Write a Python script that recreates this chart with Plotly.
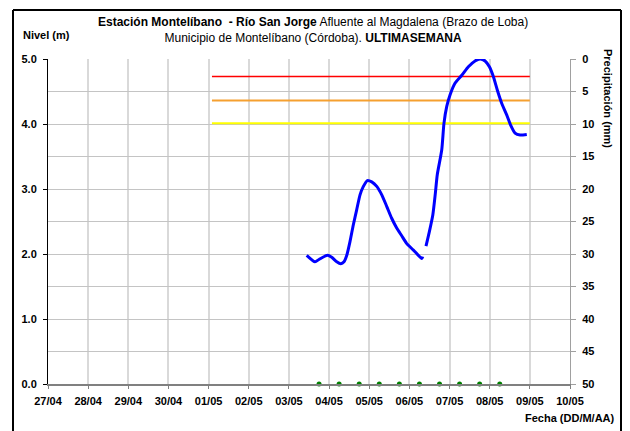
import plotly.graph_objects as go

# nivel del rio (m), dos tramos
t_nivel_1 = ["2025-05-03 10:38", "2025-05-03 15:36", "2025-05-03 18:10", "2025-05-03 23:00",
             "2025-05-04 01:35", "2025-05-04 04:35", "2025-05-04 07:00", "2025-05-04 08:55",
             "2025-05-04 10:35", "2025-05-04 12:30", "2025-05-04 14:30", "2025-05-04 16:30",
             "2025-05-04 18:30", "2025-05-04 20:30", "2025-05-04 22:50", "2025-05-05 01:30",
             "2025-05-05 04:30", "2025-05-05 07:30", "2025-05-05 10:30", "2025-05-05 13:25",
             "2025-05-05 16:25", "2025-05-05 19:25", "2025-05-05 22:25", "2025-05-06 02:25",
             "2025-05-06 07:25", "2025-05-06 08:00"]
nivel_1 = [1.98, 1.88, 1.92, 1.98, 1.95, 1.88, 1.85, 1.88, 1.98, 2.19, 2.45, 2.68,
           2.91, 3.04, 3.13, 3.11, 3.04, 2.91, 2.73, 2.55, 2.40, 2.28, 2.16, 2.06,
           1.93, 1.96]

t_nivel_2 = ["2025-05-06 09:55", "2025-05-06 11:55", "2025-05-06 14:00", "2025-05-06 15:30",
             "2025-05-06 16:40", "2025-05-06 19:20", "2025-05-06 20:40", "2025-05-06 22:20",
             "2025-05-07 00:20", "2025-05-07 03:20", "2025-05-07 07:20", "2025-05-07 11:15",
             "2025-05-07 15:15", "2025-05-07 18:15", "2025-05-07 21:15", "2025-05-07 23:50",
             "2025-05-08 02:10", "2025-05-08 04:35", "2025-05-08 07:10", "2025-05-08 10:10",
             "2025-05-08 12:35", "2025-05-08 15:10", "2025-05-08 18:10", "2025-05-08 22:10"]
nivel_2 = [2.12, 2.34, 2.60, 2.93, 3.22, 3.60, 4.01, 4.27, 4.45, 4.63, 4.75, 4.88,
           4.97, 5.00, 4.97, 4.88, 4.73, 4.52, 4.32, 4.14, 3.98, 3.86, 3.83, 3.84]

# umbrales de alerta
t_umbral = ["2025-05-01 02:00", "2025-05-09 00:00"]
umbral_rojo = 4.73
umbral_naranja = 4.36
umbral_amarillo = 4.01

# precipitacion registrada
t_precip = ["2025-05-03 18:00", "2025-05-04 06:00", "2025-05-04 18:00", "2025-05-05 06:00",
            "2025-05-05 18:00", "2025-05-06 06:00", "2025-05-06 18:00", "2025-05-07 06:00",
            "2025-05-07 18:00", "2025-05-08 06:00"]
precip = [0, 0, 0, 0, 0, 0, 0, 0, 0, 0]

font = "Liberation Sans, Arial, sans-serif"

fig = go.Figure()

for nivel, color, w in [(umbral_rojo, "#ff0000", 1.5),
                        (umbral_naranja, "#f5a030", 2),
                        (umbral_amarillo, "#ffff00", 2)]:
    fig.add_trace(go.Scatter(x=t_umbral, y=[nivel, nivel], mode="lines",
                             line=dict(color=color, width=w), showlegend=False))

fig.add_trace(go.Scatter(x=t_nivel_1, y=nivel_1, mode="lines",
                         line=dict(color="#0000ff", width=3, shape="spline", smoothing=0.6),
                         showlegend=False))
fig.add_trace(go.Scatter(x=t_nivel_2, y=nivel_2, mode="lines",
                         line=dict(color="#0000ff", width=3, shape="spline", smoothing=0.6),
                         showlegend=False))

# puntos de precipitacion sobre el eje inferior
fig.add_trace(go.Scatter(x=t_precip, y=precip, mode="markers",
                         marker=dict(color="#008000", size=5), showlegend=False,
                         cliponaxis=False))

fig.update_layout(
    width=630, height=431,
    margin=dict(l=48, r=60, t=59, b=47),
    paper_bgcolor="white", plot_bgcolor="white",
    font=dict(family=font, size=11, color="black"),
    xaxis=dict(
        type="date",
        range=["2025-04-27", "2025-05-10"],
        dtick=86400000, tick0="2025-04-27",
        tickformat="%d/%m",
        showgrid=True, gridcolor="#d9d9d9", gridwidth=2,
        showline=True, linecolor="#808080", linewidth=2,
        ticks="outside", ticklen=3, tickcolor="#808080",
        ticklabelstandoff=3,
        tickfont=dict(family=font, size=11, color="black", weight="bold"),
        zeroline=False,
    ),
    yaxis=dict(
        range=[0, 5], dtick=1, tickformat=".1f",
        showgrid=False, zeroline=False,
        showline=True, linecolor="black", linewidth=1,
        ticks="outside", ticklen=4, tickcolor="black",
        ticklabelstandoff=4,
        tickfont=dict(family=font, size=11, color="black", weight="bold"),
    ),
    yaxis2=dict(
        overlaying="y", side="right",
        range=[50, 0], dtick=5,
        showgrid=True, gridcolor="#c4c4c4", gridwidth=1,
        showline=True, linecolor="#a0a0a0", linewidth=1,
        ticks="outside", ticklen=5, tickcolor="#a0a0a0",
        ticklabelstandoff=4,
        tickfont=dict(family=font, size=11, color="black", weight="bold"),
        zeroline=False,
    ),
)

# traza invisible para activar el eje derecho
fig.add_trace(go.Scatter(x=[None], y=[None], yaxis="y2", showlegend=False))

# marco exterior (izquierda, arriba, derecha)
fx0, fx1 = (13 - 48) / 522, (621 - 48) / 522
fy0, fy1 = -(431 - 384) / 325, 1 + (59 - 10) / 325
for x0, y0, x1, y1 in [(fx0, fy0, fx0, fy1), (fx0, fy1, fx1, fy1), (fx1, fy1, fx1, fy0)]:
    fig.add_shape(type="line", xref="paper", yref="paper", x0=x0, y0=y0, x1=x1, y1=y1,
                  line=dict(color="black", width=2))

fig.add_annotation(
    text="<b>Estación Montelíbano  - Río San Jorge</b> Afluente al Magdalena (Brazo de Loba)"
         "<br>Municipio de Montelíbano (Córdoba). <b>ULTIMASEMANA</b>",
    xref="paper", yref="paper", x=(313 - 48) / 522, y=1 + (59 - 29.5) / 325,
    xanchor="center", yanchor="middle", showarrow=False,
    font=dict(family=font, size=12, color="black"), align="center")

fig.add_annotation(text="<b>Nivel (m)</b>", xref="paper", yref="paper",
                   x=(21 - 48) / 522, y=1 + (59 - 35) / 325, xanchor="left", yanchor="middle",
                   showarrow=False, font=dict(family=font, size=11, color="black"))

fig.add_annotation(text="<b>Precipitación (mm)</b>", xref="paper", yref="paper",
                   x=1 + (608 - 570) / 522, y=1 + (59 - 98) / 325, xanchor="center", yanchor="middle",
                   textangle=90, showarrow=False, font=dict(family=font, size=11, color="black"))

fig.add_annotation(text="<b>Fecha (DD/M/AA)</b>", xref="paper", yref="paper",
                   x=1 + (617 - 570) / 522, y=-(418 - 384) / 325, xanchor="right", yanchor="middle",
                   showarrow=False, font=dict(family=font, size=11, color="black"))

fig.write_html("out.html", config={"displayModeBar": False},
               post_script="document.body.style.margin='0';")
